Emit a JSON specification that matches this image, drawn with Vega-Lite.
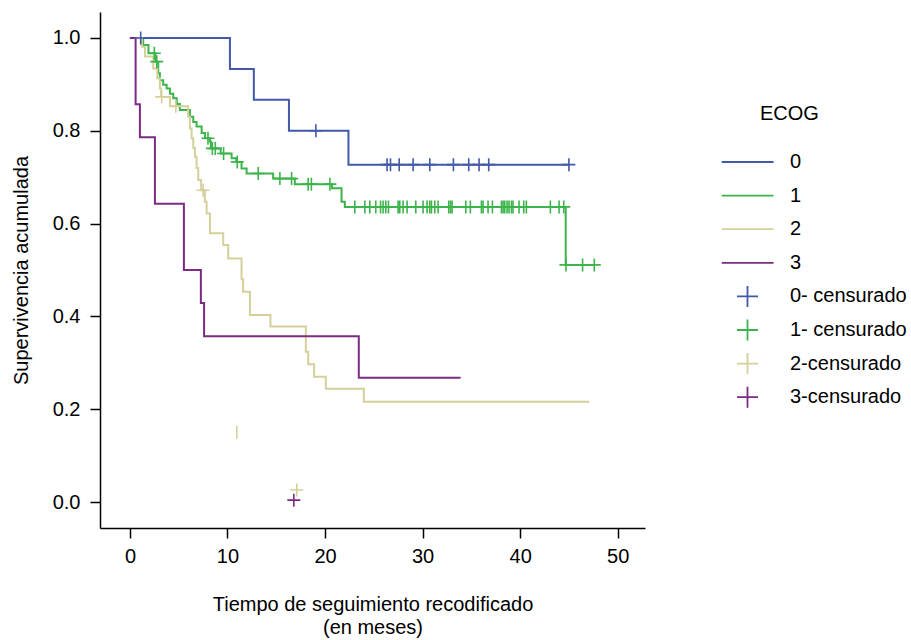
{
  "$schema": "https://vega.github.io/schema/vega-lite/v6.json",
  "width": 545,
  "height": 516,
  "autosize": {"type": "none"},
  "padding": {"left": 100, "top": 12, "right": 266, "bottom": 112},
  "background": "white",
  "config": {
    "font": "Liberation Sans",
    "view": {"stroke": null},
    "axis": {
      "grid": false,
      "domainColor": "black",
      "domainWidth": 1.5,
      "tickColor": "black",
      "tickWidth": 1.5,
      "tickSize": 10,
      "labelColor": "black",
      "labelFontSize": 20,
      "titleColor": "black",
      "titleFontSize": 20,
      "titleFontWeight": "normal"
    }
  },
  "datasets": {
    "curvas": [
      {"grupo": "0", "tiempo": 0, "supervivencia": 1},
      {"grupo": "0", "tiempo": 10.25, "supervivencia": 0.933},
      {"grupo": "0", "tiempo": 12.7, "supervivencia": 0.867},
      {"grupo": "0", "tiempo": 16.3, "supervivencia": 0.8},
      {"grupo": "0", "tiempo": 22.4, "supervivencia": 0.727},
      {"grupo": "0", "tiempo": 45.0, "supervivencia": 0.727},
      {"grupo": "1", "tiempo": 0, "supervivencia": 1},
      {"grupo": "1", "tiempo": 1.36, "supervivencia": 0.985},
      {"grupo": "1", "tiempo": 1.9, "supervivencia": 0.967},
      {"grupo": "1", "tiempo": 2.6, "supervivencia": 0.949},
      {"grupo": "1", "tiempo": 2.9, "supervivencia": 0.924},
      {"grupo": "1", "tiempo": 3.07, "supervivencia": 0.909},
      {"grupo": "1", "tiempo": 3.41, "supervivencia": 0.899},
      {"grupo": "1", "tiempo": 3.76, "supervivencia": 0.891},
      {"grupo": "1", "tiempo": 4.1, "supervivencia": 0.88},
      {"grupo": "1", "tiempo": 4.44, "supervivencia": 0.87},
      {"grupo": "1", "tiempo": 4.8, "supervivencia": 0.858},
      {"grupo": "1", "tiempo": 5.12, "supervivencia": 0.845},
      {"grupo": "1", "tiempo": 6.15, "supervivencia": 0.83},
      {"grupo": "1", "tiempo": 6.49, "supervivencia": 0.819},
      {"grupo": "1", "tiempo": 6.83, "supervivencia": 0.809},
      {"grupo": "1", "tiempo": 7.35, "supervivencia": 0.795},
      {"grupo": "1", "tiempo": 7.7, "supervivencia": 0.784},
      {"grupo": "1", "tiempo": 8.2, "supervivencia": 0.777},
      {"grupo": "1", "tiempo": 8.3, "supervivencia": 0.762},
      {"grupo": "1", "tiempo": 9.3, "supervivencia": 0.751},
      {"grupo": "1", "tiempo": 10.42, "supervivencia": 0.741},
      {"grupo": "1", "tiempo": 10.9, "supervivencia": 0.733},
      {"grupo": "1", "tiempo": 11.44, "supervivencia": 0.719},
      {"grupo": "1", "tiempo": 11.96, "supervivencia": 0.708},
      {"grupo": "1", "tiempo": 14.68, "supervivencia": 0.697},
      {"grupo": "1", "tiempo": 16.9, "supervivencia": 0.685},
      {"grupo": "1", "tiempo": 20.72, "supervivencia": 0.676},
      {"grupo": "1", "tiempo": 21.69, "supervivencia": 0.647},
      {"grupo": "1", "tiempo": 22.03, "supervivencia": 0.636},
      {"grupo": "1", "tiempo": 44.67, "supervivencia": 0.511},
      {"grupo": "1", "tiempo": 47.6, "supervivencia": 0.511},
      {"grupo": "2", "tiempo": 0, "supervivencia": 1},
      {"grupo": "2", "tiempo": 1.23, "supervivencia": 0.981},
      {"grupo": "2", "tiempo": 1.54, "supervivencia": 0.96},
      {"grupo": "2", "tiempo": 2.39, "supervivencia": 0.934},
      {"grupo": "2", "tiempo": 2.8, "supervivencia": 0.913},
      {"grupo": "2", "tiempo": 3.07, "supervivencia": 0.891},
      {"grupo": "2", "tiempo": 3.2, "supervivencia": 0.873},
      {"grupo": "2", "tiempo": 4.1, "supervivencia": 0.853},
      {"grupo": "2", "tiempo": 5.97, "supervivencia": 0.83},
      {"grupo": "2", "tiempo": 6.15, "supervivencia": 0.805},
      {"grupo": "2", "tiempo": 6.32, "supervivencia": 0.784},
      {"grupo": "2", "tiempo": 6.49, "supervivencia": 0.763},
      {"grupo": "2", "tiempo": 6.66, "supervivencia": 0.744},
      {"grupo": "2", "tiempo": 6.83, "supervivencia": 0.72},
      {"grupo": "2", "tiempo": 7.0, "supervivencia": 0.694},
      {"grupo": "2", "tiempo": 7.3, "supervivencia": 0.672},
      {"grupo": "2", "tiempo": 7.68, "supervivencia": 0.647},
      {"grupo": "2", "tiempo": 7.86, "supervivencia": 0.622},
      {"grupo": "2", "tiempo": 8.2, "supervivencia": 0.579},
      {"grupo": "2", "tiempo": 9.56, "supervivencia": 0.554},
      {"grupo": "2", "tiempo": 10.07, "supervivencia": 0.525},
      {"grupo": "2", "tiempo": 11.44, "supervivencia": 0.48},
      {"grupo": "2", "tiempo": 11.6, "supervivencia": 0.453},
      {"grupo": "2", "tiempo": 12.3, "supervivencia": 0.403},
      {"grupo": "2", "tiempo": 14.4, "supervivencia": 0.378},
      {"grupo": "2", "tiempo": 18.03, "supervivencia": 0.324},
      {"grupo": "2", "tiempo": 18.27, "supervivencia": 0.297},
      {"grupo": "2", "tiempo": 18.88, "supervivencia": 0.27},
      {"grupo": "2", "tiempo": 20.08, "supervivencia": 0.244},
      {"grupo": "2", "tiempo": 23.98, "supervivencia": 0.216},
      {"grupo": "2", "tiempo": 47.1, "supervivencia": 0.216},
      {"grupo": "3", "tiempo": 0, "supervivencia": 1},
      {"grupo": "3", "tiempo": 0.58, "supervivencia": 0.857},
      {"grupo": "3", "tiempo": 1.02, "supervivencia": 0.786},
      {"grupo": "3", "tiempo": 2.56, "supervivencia": 0.643},
      {"grupo": "3", "tiempo": 5.53, "supervivencia": 0.5},
      {"grupo": "3", "tiempo": 7.27, "supervivencia": 0.429},
      {"grupo": "3", "tiempo": 7.6, "supervivencia": 0.357},
      {"grupo": "3", "tiempo": 23.46, "supervivencia": 0.268},
      {"grupo": "3", "tiempo": 33.9, "supervivencia": 0.268}
    ],
    "censuras": [
      {"grupo": "0- censurado", "tiempo": 1.1, "supervivencia": 1},
      {"grupo": "0- censurado", "tiempo": 19.06, "supervivencia": 0.8},
      {"grupo": "0- censurado", "tiempo": 26.36, "supervivencia": 0.727},
      {"grupo": "0- censurado", "tiempo": 26.71, "supervivencia": 0.727},
      {"grupo": "0- censurado", "tiempo": 27.6, "supervivencia": 0.727},
      {"grupo": "0- censurado", "tiempo": 29.03, "supervivencia": 0.727},
      {"grupo": "0- censurado", "tiempo": 30.74, "supervivencia": 0.727},
      {"grupo": "0- censurado", "tiempo": 33.16, "supervivencia": 0.727},
      {"grupo": "0- censurado", "tiempo": 34.73, "supervivencia": 0.727},
      {"grupo": "0- censurado", "tiempo": 35.79, "supervivencia": 0.727},
      {"grupo": "0- censurado", "tiempo": 36.78, "supervivencia": 0.727},
      {"grupo": "0- censurado", "tiempo": 45.0, "supervivencia": 0.727},
      {"grupo": "1- censurado", "tiempo": 2.5, "supervivencia": 0.967},
      {"grupo": "1- censurado", "tiempo": 2.75, "supervivencia": 0.949},
      {"grupo": "1- censurado", "tiempo": 8.0, "supervivencia": 0.784},
      {"grupo": "1- censurado", "tiempo": 8.45, "supervivencia": 0.762},
      {"grupo": "1- censurado", "tiempo": 8.75, "supervivencia": 0.762},
      {"grupo": "1- censurado", "tiempo": 9.6, "supervivencia": 0.751},
      {"grupo": "1- censurado", "tiempo": 11.0, "supervivencia": 0.733},
      {"grupo": "1- censurado", "tiempo": 13.15, "supervivencia": 0.708},
      {"grupo": "1- censurado", "tiempo": 15.37, "supervivencia": 0.697},
      {"grupo": "1- censurado", "tiempo": 16.57, "supervivencia": 0.697},
      {"grupo": "1- censurado", "tiempo": 18.27, "supervivencia": 0.685},
      {"grupo": "1- censurado", "tiempo": 18.6, "supervivencia": 0.685},
      {"grupo": "1- censurado", "tiempo": 20.5, "supervivencia": 0.685},
      {"grupo": "1- censurado", "tiempo": 23.05, "supervivencia": 0.636},
      {"grupo": "1- censurado", "tiempo": 24.08, "supervivencia": 0.636},
      {"grupo": "1- censurado", "tiempo": 24.59, "supervivencia": 0.636},
      {"grupo": "1- censurado", "tiempo": 25.2, "supervivencia": 0.636},
      {"grupo": "1- censurado", "tiempo": 25.69, "supervivencia": 0.636},
      {"grupo": "1- censurado", "tiempo": 25.95, "supervivencia": 0.636},
      {"grupo": "1- censurado", "tiempo": 26.23, "supervivencia": 0.636},
      {"grupo": "1- censurado", "tiempo": 26.5, "supervivencia": 0.636},
      {"grupo": "1- censurado", "tiempo": 27.49, "supervivencia": 0.636},
      {"grupo": "1- censurado", "tiempo": 27.66, "supervivencia": 0.636},
      {"grupo": "1- censurado", "tiempo": 28.0, "supervivencia": 0.636},
      {"grupo": "1- censurado", "tiempo": 28.41, "supervivencia": 0.636},
      {"grupo": "1- censurado", "tiempo": 29.3, "supervivencia": 0.636},
      {"grupo": "1- censurado", "tiempo": 30.05, "supervivencia": 0.636},
      {"grupo": "1- censurado", "tiempo": 30.46, "supervivencia": 0.636},
      {"grupo": "1- censurado", "tiempo": 30.74, "supervivencia": 0.636},
      {"grupo": "1- censurado", "tiempo": 30.91, "supervivencia": 0.636},
      {"grupo": "1- censurado", "tiempo": 31.25, "supervivencia": 0.636},
      {"grupo": "1- censurado", "tiempo": 31.59, "supervivencia": 0.636},
      {"grupo": "1- censurado", "tiempo": 32.68, "supervivencia": 0.636},
      {"grupo": "1- censurado", "tiempo": 32.86, "supervivencia": 0.636},
      {"grupo": "1- censurado", "tiempo": 33.02, "supervivencia": 0.636},
      {"grupo": "1- censurado", "tiempo": 34.43, "supervivencia": 0.636},
      {"grupo": "1- censurado", "tiempo": 34.9, "supervivencia": 0.636},
      {"grupo": "1- censurado", "tiempo": 36.03, "supervivencia": 0.636},
      {"grupo": "1- censurado", "tiempo": 36.2, "supervivencia": 0.636},
      {"grupo": "1- censurado", "tiempo": 36.71, "supervivencia": 0.636},
      {"grupo": "1- censurado", "tiempo": 37.16, "supervivencia": 0.636},
      {"grupo": "1- censurado", "tiempo": 38.08, "supervivencia": 0.636},
      {"grupo": "1- censurado", "tiempo": 38.25, "supervivencia": 0.636},
      {"grupo": "1- censurado", "tiempo": 38.42, "supervivencia": 0.636},
      {"grupo": "1- censurado", "tiempo": 38.66, "supervivencia": 0.636},
      {"grupo": "1- censurado", "tiempo": 38.86, "supervivencia": 0.636},
      {"grupo": "1- censurado", "tiempo": 39.11, "supervivencia": 0.636},
      {"grupo": "1- censurado", "tiempo": 39.27, "supervivencia": 0.636},
      {"grupo": "1- censurado", "tiempo": 39.89, "supervivencia": 0.636},
      {"grupo": "1- censurado", "tiempo": 40.37, "supervivencia": 0.636},
      {"grupo": "1- censurado", "tiempo": 40.64, "supervivencia": 0.636},
      {"grupo": "1- censurado", "tiempo": 43.1, "supervivencia": 0.636},
      {"grupo": "1- censurado", "tiempo": 43.99, "supervivencia": 0.636},
      {"grupo": "1- censurado", "tiempo": 44.47, "supervivencia": 0.636},
      {"grupo": "1- censurado", "tiempo": 44.7, "supervivencia": 0.511},
      {"grupo": "1- censurado", "tiempo": 46.4, "supervivencia": 0.511},
      {"grupo": "1- censurado", "tiempo": 47.6, "supervivencia": 0.511},
      {"grupo": "2-censurado", "tiempo": 3.25, "supervivencia": 0.873},
      {"grupo": "2-censurado", "tiempo": 4.7, "supervivencia": 0.853},
      {"grupo": "2-censurado", "tiempo": 7.5, "supervivencia": 0.672},
      {"grupo": "2-censurado", "tiempo": 17.1, "supervivencia": 0.026},
      {"grupo": "3-censurado", "tiempo": 16.8, "supervivencia": 0.004}
    ],
    "marcas_sueltas": [
      {"grupo": "2-censurado", "tiempo": 10.95, "supervivencia": 0.15}
    ]
  },
  "encoding": {
    "x": {
      "field": "tiempo",
      "type": "quantitative",
      "scale": {"domain": [-3.07, 52.8], "nice": false, "zero": false},
      "axis": {
        "values": [0, 10, 20, 30, 40, 50],
        "format": "d",
        "labelPadding": 8,
        "title": ["Tiempo de seguimiento recodificado", "(en meses)"],
        "titlePadding": 28,
        "titleLineHeight": 23
      }
    },
    "y": {
      "field": "supervivencia",
      "type": "quantitative",
      "scale": {"domain": [-0.056, 1.056], "nice": false, "zero": false},
      "axis": {
        "values": [0, 0.2, 0.4, 0.6, 0.8, 1.0],
        "format": ".1f",
        "labelPadding": 10,
        "title": "Supervivencia acumulada",
        "titlePadding": 21
      }
    },
    "color": {
      "field": "grupo",
      "type": "nominal",
      "scale": {
        "domain": ["0", "1", "2", "3", "0- censurado", "1- censurado", "2-censurado", "3-censurado"],
        "range": ["#4059A8", "#3CB44B", "#D5D09A", "#7B2C82", "#4059A8", "#3CB44B", "#D5D09A", "#7B2C82"]
      },
      "legend": {
        "title": "ECOG",
        "orient": "none",
        "legendX": 621.5,
        "legendY": 92,
        "titleFontSize": 20,
        "titleFontWeight": "normal",
        "titleColor": "black",
        "titlePadding": 26.5,
        "titleAnchor": "start",
        "labelFontSize": 20,
        "labelColor": "black",
        "labelOffset": 31,
        "symbolSize": 441,
        "symbolOffset": 14.5,
        "symbolStrokeWidth": 1.8,
        "clipHeight": 23,
        "rowPadding": 10.6,
        "encode": {
          "title": {"update": {"dx": {"value": 38.5}}},
          "symbols": {
            "update": {
              "shape": {"signal": "indexof(datum.value, 'censurado') >= 0 ? 'M-1,0H1M0,-1V1' : 'M-2.48,0H2.48'"},
              "stroke": {"scale": "color", "field": "value"},
              "fill": {"value": "transparent"},
              "opacity": {"value": 1}
            }
          }
        }
      }
    }
  },
  "layer": [
    {
      "data": {"name": "curvas"},
      "mark": {"type": "line", "interpolate": "step-after", "strokeWidth": 2}
    },
    {
      "data": {"name": "censuras"},
      "mark": {"type": "point", "shape": "M-1,0H1M0,-1V1", "size": 169, "filled": false, "strokeWidth": 1.6, "opacity": 1}
    },
    {
      "data": {"name": "marcas_sueltas"},
      "mark": {"type": "point", "shape": "M0,-1V1", "size": 169, "filled": false, "strokeWidth": 1.6, "opacity": 1}
    }
  ]
}
